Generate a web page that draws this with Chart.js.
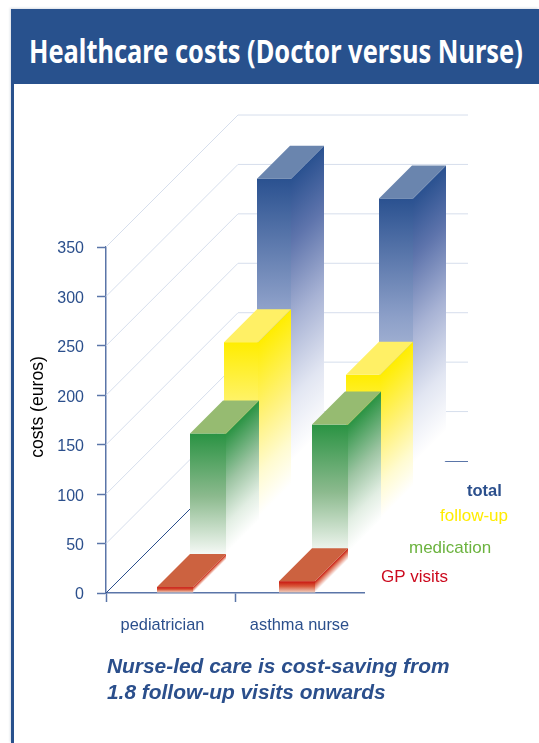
<!DOCTYPE html>
<html>
<head>
<meta charset="utf-8">
<title>Healthcare costs</title>
<script src="https://cdn.jsdelivr.net/npm/chart.js@4"></script>
<style>
    html, body { margin: 0; padding: 0; background: #fff; }
    #page { position: relative; width: 539px; height: 743px; overflow: hidden; }
    #frame { position: absolute; left: 11px; top: 9px; width: 528px; height: 734px; border-left: 3px solid #28518d; box-sizing: border-box; box-shadow: -1px -1px 2px rgba(150, 160, 180, .35); }
    #banner { position: absolute; left: 11px; top: 9px; width: 528px; height: 75px; background: #28518d; }
    #banner span { position: absolute; left: 18px; top: 19px; color: #fff; font: bold 33px "Noto Sans", sans-serif; white-space: nowrap; transform-origin: left top; transform: scaleX(.77); }
    #chart { position: absolute; left: 0; top: 0; }
    #note { position: absolute; left: 107px; top: 653px; color: #2b4f8c; font: italic bold 20.9px/26px "Liberation Sans", sans-serif; white-space: nowrap; }
</style>
</head>
<body>
<div id="page">
    <div id="frame"></div>
    <div id="banner"><span>Healthcare costs (Doctor versus Nurse)</span></div>
    <canvas id="chart" width="539" height="743"></canvas>
    <div id="note">Nurse-led care is cost-saving from<br>1.8 follow-up visits onwards</div>
</div>
<script>
const categories = ["pediatrician", "asthma nurse"];
const gpVisits = [6, 12];
const medication = [128, 137];
const followUp = [187, 154];
const total = [319, 299];
const yTicks = [0, 50, 100, 150, 200, 250, 300, 350];

const BLUE = "#2b4f8c";
const AXIS = "#5a75a8";
const FONT = '"Liberation Sans", Arial, sans-serif';

// one step back into the scene, per series
const STEP_X = 33;
const STEP_Y = 33;

// the two groups do not sit dead centre in their category
const GROUP_SHIFT = [4.5, -2.5];
const LABEL_SHIFT = [-8, 0];

function mixStops(grad, stops) {
    stops.forEach(s => grad.addColorStop(s[0], s[1]));
    return grad;
}

// Bars drawn as boxes, each series one step further back than the one before
class Box3dController extends Chart.BarController {
    draw() {
        const ctx = this.chart.ctx;
        const meta = this.getMeta();
        const ds = this.getDataset();
        const depth = meta.index;

        meta.data.forEach((bar, i) => {
            const w = bar.width;
            const x0 = bar.x - w / 2 + depth * STEP_X + GROUP_SHIFT[i];
            const x1 = x0 + w;
            const top = bar.y - depth * STEP_Y;
            const base = bar.base - depth * STEP_Y;
            const h = base - top;

            ctx.save();

            // front face
            ctx.fillStyle = mixStops(ctx.createLinearGradient(0, top, 0, base), ds.frontStops);
            ctx.fillRect(x0, top, w, h);

            // side face, shaded square to its slanted edges
            ctx.beginPath();
            ctx.moveTo(x1, top);
            ctx.lineTo(x1 + STEP_X, top - STEP_Y);
            ctx.lineTo(x1 + STEP_X, base - STEP_Y);
            ctx.lineTo(x1, base);
            ctx.closePath();
            ctx.fillStyle = mixStops(ctx.createLinearGradient(x1, top, x1 + h / 2, top + h / 2), ds.sideStops);
            ctx.fill();

            // top face
            ctx.beginPath();
            ctx.moveTo(x0, top);
            ctx.lineTo(x0 + STEP_X, top - STEP_Y);
            ctx.lineTo(x1 + STEP_X, top - STEP_Y);
            ctx.lineTo(x1, top);
            ctx.closePath();
            ctx.fillStyle = ds.capColor;
            ctx.fill();

            ctx.restore();
        });
    }
}
Box3dController.id = "box3d";
Box3dController.defaults = Chart.BarController.defaults;
Chart.register(Box3dController);

// floor and back wall lines, one for each y tick
const wallPlugin = {
    id: "wall",
    beforeDatasetsDraw(chart) {
        const ctx = chart.ctx;
        const y = chart.scales.y;
        const x = chart.scales.x;
        const dx = STEP_X * 4;
        const dy = STEP_Y * 4;

        ctx.save();
        ctx.lineWidth = 1;
        yTicks.slice().reverse().forEach(v => {
            const py = y.getPixelForValue(v);
            ctx.strokeStyle = v === 0 ? BLUE : "#d6deec";
            ctx.beginPath();
            ctx.moveTo(x.left, py);
            ctx.lineTo(x.left + dx, py - dy);
            if (v === 0) {
                ctx.stroke();
                ctx.strokeStyle = AXIS;
                ctx.beginPath();
                ctx.moveTo(x.left + dx, py - dy + 0.5);
            }
            ctx.lineTo(x.right + 104, py - dy + (v === 0 ? 0.5 : 0));
            ctx.stroke();
        });
        ctx.restore();
    }
};

// text that sits off the regular axis spots
const labelPlugin = {
    id: "labels",
    afterDraw(chart) {
        const ctx = chart.ctx;
        const x = chart.scales.x;

        ctx.save();
        ctx.textBaseline = "middle";
        ctx.textAlign = "center";
        ctx.fillStyle = BLUE;
        ctx.font = "16.4px " + FONT;
        categories.forEach((c, i) => {
            ctx.fillText(c, x.getPixelForTick(i) + LABEL_SHIFT[i], 625);
        });

        ctx.save();
        ctx.translate(38, 407);
        ctx.rotate(-Math.PI / 2);
        ctx.fillStyle = "#000";
        ctx.font = "17.6px " + FONT;
        ctx.fillText("costs (euros)", 0, 0);
        ctx.restore();

        ctx.textAlign = "left";
        chart.data.datasets.forEach(ds => {
            ctx.fillStyle = ds.labelColor;
            ctx.font = ds.labelFont + " " + FONT;
            ctx.fillText(ds.label, ds.labelAt[0], ds.labelAt[1]);
        });
        ctx.restore();
    }
};

new Chart(document.getElementById("chart"), {
    type: "box3d",
    data: {
        labels: categories,
        datasets: [
            {
                label: "GP visits",
                data: gpVisits,
                barThickness: 36,
                capColor: "#cc6240",
                frontStops: [[0, "#c8120c"], [0.45, "#d8583a"], [1, "#f0d0c0"]],
                sideStops: [[0, "#c8120c"], [0.3, "#dc6a50"], [1, "#ffffff"]],
                labelColor: "#cc0a1e", labelFont: "17px", labelAt: [381, 577]
            },
            {
                label: "medication",
                data: medication,
                barThickness: 36,
                capColor: "#96bb71",
                frontStops: [[0, "#2a9343"], [0.5, "#8cba8e"], [1, "#ffffff"]],
                sideStops: [[0, "#2a9343"], [0.4, "#9cc4a2"], [0.72, "#e2eee3"], [0.95, "#ffffff"]],
                labelColor: "#6cb33f", labelFont: "17px", labelAt: [409, 548]
            },
            {
                label: "follow-up",
                data: followUp,
                barThickness: 34,
                capColor: "#fff065",
                frontStops: [[0, "#ffed00"], [0.4, "#fff482"], [1, "#ffffff"]],
                sideStops: [[0, "#ffed00"], [0.42, "#fff27a"], [0.72, "#fffbd0"], [0.95, "#ffffff"]],
                labelColor: "#ffec00", labelFont: "17px", labelAt: [440, 516]
            },
            {
                label: "total",
                data: total,
                barThickness: 34,
                capColor: "#6a85ae",
                frontStops: [[0, "#2a5190"], [0.4, "#8c9fc8"], [1, "#ffffff"]],
                sideStops: [[0, "#2a5190"], [0.2, "#5e74ac"], [0.45, "#a7b2d4"], [0.7, "#e2e6f2"], [0.9, "#ffffff"]],
                labelColor: BLUE, labelFont: "bold 16.5px", labelAt: [467, 491]
            }
        ].map(ds => Object.assign(ds, { clip: false }))
    },
    options: {
        responsive: false,
        animation: false,
        layout: { padding: { left: 0, right: 175, top: 247, bottom: 0 } },
        plugins: { legend: { display: false }, tooltip: { enabled: false } },
        scales: {
            x: {
                type: "category",
                stacked: true,
                offset: true,
                afterFit: scale => { scale.height = 150; },
                border: { color: AXIS, width: 1.5 },
                grid: {
                    offset: true,
                    drawOnChartArea: false,
                    tickLength: 9,
                    tickWidth: 1.5,
                    // the closing grid line has no tick behind it, only the two real ones are shown
                    tickColor: c => (c.tick ? AXIS : "transparent")
                },
                ticks: { display: false }
            },
            y: {
                type: "linear",
                min: 0,
                max: 350,
                afterFit: scale => { scale.width = 106; },
                afterBuildTicks: scale => { scale.ticks = yTicks.map(v => ({ value: v })); },
                border: { color: AXIS, width: 1.5 },
                grid: { drawOnChartArea: false, tickLength: 9, tickWidth: 1.5, tickColor: AXIS },
                ticks: { color: BLUE, padding: 13, labelOffset: 2, font: { family: FONT, size: 16 } }
            }
        }
    },
    plugins: [wallPlugin, labelPlugin]
});
</script>
</body>
</html>
